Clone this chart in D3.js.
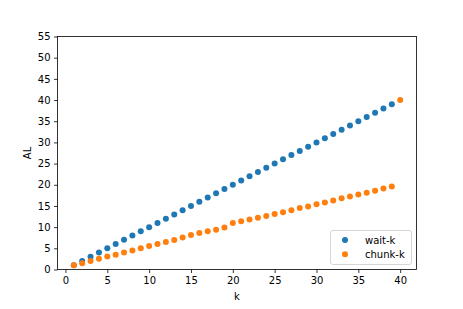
<!DOCTYPE html>
<html lang="en">
<head>
    <meta charset="UTF-8">
    <title>AL vs k</title>
    <script src="https://d3js.org/d3.v7.min.js"></script>
    <style>
        body { margin: 0; background: #fff; }
        svg { font-family: "DejaVu Sans", sans-serif; }
    </style>
</head>
<body>
    <svg width="463" height="309"></svg>
    <script>
        // data
        const kWait = d3.range(1, 40);
        const alWait = [1, 2, 3, 4, 5, 6, 7, 8, 9, 10, 11, 12, 13, 14, 15, 16, 17, 18, 19, 20,
            21, 22, 23, 24, 25, 26, 27, 28, 29, 30, 31, 32, 33, 34, 35, 36, 37, 38, 39];
        const kChunk = d3.range(1, 41);
        const alChunk = [1.0, 1.5, 2.0, 2.55, 3.05, 3.5, 4.0, 4.5, 5.0, 5.55, 6.0, 6.5, 6.95, 7.55,
            8.15, 8.6, 9.0, 9.4, 9.9, 11.0, 11.4, 11.8, 12.2, 12.65, 13.1, 13.5, 14.0, 14.5, 14.9,
            15.4, 15.8, 16.3, 16.8, 17.25, 17.7, 18.1, 18.6, 19.1, 19.6, 40.0];
        const xTicks = [0, 5, 10, 15, 20, 25, 30, 35, 40];
        const yTicks = [0, 5, 10, 15, 20, 25, 30, 35, 40, 45, 50, 55];
        const seriesNames = ["wait-k", "chunk-k"];
        const colors = ["#1f77b4", "#ff7f0e"];

        const svg = d3.select("svg");
        const m = { left: 57.5, right: 416.5, top: 36.5, bottom: 269.5 };

        const x = d3.scaleLinear().domain([-0.95, 41.95]).range([m.left, m.right]);
        const y = d3.scaleLinear().domain([0, 55]).range([m.bottom, m.top]);

        // axes
        const xAxis = d3.axisBottom(x).tickValues(xTicks).tickSize(3.5).tickPadding(3.5);
        const yAxis = d3.axisLeft(y).tickValues(yTicks).tickSize(3.5).tickPadding(3.5);

        svg.append("g").attr("transform", `translate(0,${m.bottom})`).call(xAxis)
            .call(g => g.select(".domain").remove());
        svg.append("g").attr("transform", `translate(${m.left},0)`).call(yAxis)
            .call(g => g.select(".domain").remove());
        svg.selectAll(".tick text").attr("font-size", 10).attr("fill", "#000")
            .attr("font-family", "DejaVu Sans, sans-serif");
        svg.selectAll(".tick line").attr("stroke", "#000").attr("stroke-width", 0.8);

        // frame
        svg.append("rect")
            .attr("x", m.left).attr("y", m.top)
            .attr("width", m.right - m.left).attr("height", m.bottom - m.top)
            .attr("fill", "none").attr("stroke", "#000").attr("stroke-width", 0.8);

        // points
        const series = [
            kWait.map((k, i) => [k, alWait[i]]),
            kChunk.map((k, i) => [k, alChunk[i]])
        ];
        series.forEach((pts, s) => {
            svg.append("g").selectAll("circle").data(pts).enter().append("circle")
                .attr("cx", d => x(d[0]))
                .attr("cy", d => y(d[1]))
                .attr("r", 3)
                .attr("fill", colors[s]);
        });

        // labels
        svg.append("text").attr("x", (m.left + m.right) / 2).attr("y", 300)
            .attr("text-anchor", "middle").attr("font-size", 10).text("k");
        svg.append("text")
            .attr("transform", `translate(31,${(m.top + m.bottom) / 2}) rotate(-90)`)
            .attr("text-anchor", "middle").attr("font-size", 10).text("AL");

        // legend
        const lg = svg.append("g").attr("transform", "translate(330.5,230.5)");
        lg.append("rect").attr("width", 81).attr("height", 34).attr("rx", 2.5)
            .attr("fill", "#fff").attr("fill-opacity", 0.8)
            .attr("stroke", "#ccc").attr("stroke-width", 0.8);
        seriesNames.forEach((name, i) => {
            lg.append("circle").attr("cx", 14.5).attr("cy", 9.5 + i * 14.3).attr("r", 3)
                .attr("fill", colors[i]);
            lg.append("text").attr("x", 34.5).attr("y", 9.5 + i * 14.3 + 3.6)
                .attr("font-size", 10).text(name);
        });
    </script>
</body>
</html>
